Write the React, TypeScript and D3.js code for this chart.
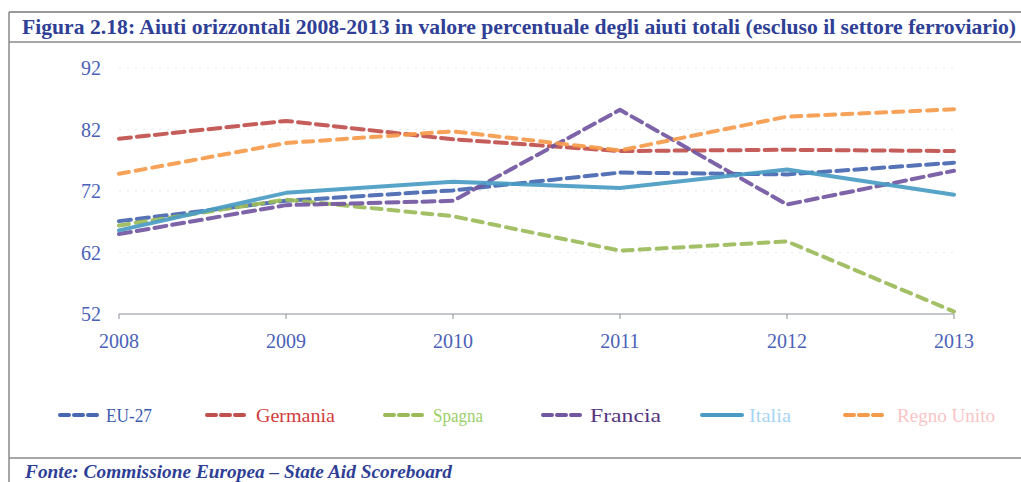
import React from "react";
import * as d3 from "d3";

const years = [2008, 2009, 2010, 2011, 2012, 2013];
const yTicks = [52, 62, 72, 82, 92];
const seriesNames = ["EU-27", "Germania", "Spagna", "Francia", "Italia", "Regno Unito"];
const eu27 = [67.1, 70.4, 72.1, 75.0, 74.7, 76.6];
const germania = [80.5, 83.4, 80.4, 78.5, 78.7, 78.5];
const spagna = [66.4, 70.6, 67.9, 62.3, 63.8, 52.4];
const francia = [65.0, 69.7, 70.4, 85.2, 69.8, 75.3];
const italia = [65.6, 71.7, 73.5, 72.5, 75.5, 71.4];
const regnoUnito = [74.8, 79.8, 81.7, 78.6, 84.1, 85.3];
const seriesValues = [eu27, germania, spagna, francia, italia, regnoUnito];

const lineColors = ["#4767b0", "#c0504d", "#9bbb59", "#7256a0", "#4a9cc4", "#f59a4a"];
const textColors = ["#3d5cb0", "#d23c3c", "#9ccf6a", "#55357f", "#a8d4f4", "#f8c4c4"];
const dashes = ["12,6", "12,6", "10,7", "12,6", null, "10,7"];

export default function App() {
  const W = 1021, H = 482;
  const x = d3.scaleLinear().domain([2008, 2013]).range([119, 954]);
  const y = d3.scaleLinear().domain([52, 92]).range([314, 68]);
  const line = d3.line<number>().x((_, i) => x(years[i])).y((v) => y(v));
  const legendX = [60, 207, 385, 543, 702, 845];
  const legendTextX = [106, 256, 433, 590, 749, 897];
  const legendW = [46, 79, 50, 71, 42, 98];
  return (
    <svg width={W} height={H} style={{ position: "absolute", left: 0, top: 0, background: "#fff" }}>
      <rect x={0} y={0} width={W} height={H} fill="#fff" />
      {/* frame */}
      <line x1={9} x2={W} y1={12} y2={12} stroke="#777" strokeWidth={1.5} />
      <line x1={9} x2={W} y1={42} y2={42} stroke="#888" strokeWidth={1.5} />
      <line x1={9} x2={9} y1={12} y2={H} stroke="#888" strokeWidth={1.5} />
      <line x1={9} x2={W} y1={458} y2={458} stroke="#888" strokeWidth={1.5} />
      <text x={22} y={34} fontFamily="Liberation Serif" fontWeight="bold" fontSize={21} fill="#2f3f96"
        textLength={994} lengthAdjust="spacingAndGlyphs">
        Figura 2.18: Aiuti orizzontali 2008-2013 in valore percentuale degli aiuti totali (escluso il settore ferroviario)
      </text>
      <text x={25} y={478} fontFamily="Liberation Serif" fontWeight="bold" fontStyle="italic" fontSize={19} fill="#2f3f96"
        textLength={427} lengthAdjust="spacingAndGlyphs">
        Fonte: Commissione Europea – State Aid Scoreboard
      </text>
      {/* grid */}
      {yTicks.slice(1).map((t) => (
        <line key={t} x1={x(2008)} x2={x(2013)} y1={y(t)} y2={y(t)} stroke="#e6e8f0" strokeWidth={1} strokeDasharray="2,6" />
      ))}
      {/* axis */}
      <line x1={x(2008)} x2={x(2013)} y1={y(52)} y2={y(52)} stroke="#8a8f9a" strokeWidth={1.2} />
      {years.map((yr) => (
        <g key={yr}>
          <line x1={x(yr)} x2={x(yr)} y1={y(52)} y2={y(52) + 5} stroke="#8a8f9a" strokeWidth={1} />
          <text x={x(yr)} y={348} textAnchor="middle" fontFamily="Liberation Serif" fontSize={20} fill="#4a62b8">{yr}</text>
        </g>
      ))}
      {yTicks.map((t) => (
        <text key={t} x={101} y={y(t) + 7} textAnchor="end" fontFamily="Liberation Serif" fontSize={20} fill="#4a62b8">{t}</text>
      ))}
      {/* lines */}
      {seriesValues.map((vals, i) => (
        <path key={seriesNames[i]} d={line(vals) || ""} fill="none" stroke={lineColors[i]} strokeWidth={4}
          strokeDasharray={dashes[i] || undefined} strokeLinecap="round" strokeLinejoin="round" opacity={0.92} />
      ))}
      {/* legend */}
      {seriesNames.map((n, i) => (
        <g key={n}>
          <line x1={legendX[i]} x2={legendX[i] + 40} y1={415} y2={415} stroke={lineColors[i]} strokeWidth={4}
            strokeDasharray={dashes[i] ? "9,5" : undefined} strokeLinecap="round" />
          <text x={legendTextX[i]} y={422} fontFamily="Liberation Serif" fontSize={19} fill={textColors[i]}
            textLength={legendW[i]} lengthAdjust="spacingAndGlyphs">{n}</text>
        </g>
      ))}
    </svg>
  );
}
